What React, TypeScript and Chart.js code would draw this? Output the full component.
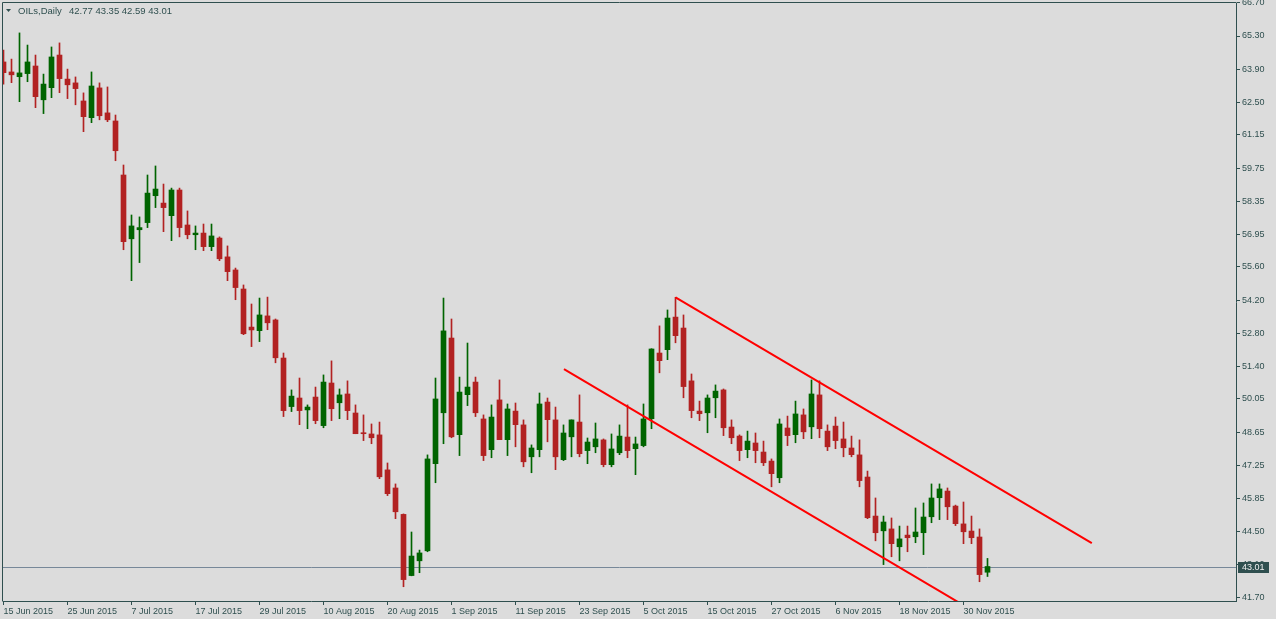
import React, { useEffect, useRef } from 'react';
import { Chart, registerables } from 'chart.js';

Chart.register(...registerables);

const symbolTitle = 'OILs,Daily';

// date labels shown on the time axis, one every LABEL_STEP bars
const xTickLabels = [
  '15 Jun 2015', '25 Jun 2015', '7 Jul 2015', '17 Jul 2015', '29 Jul 2015', '10 Aug 2015',
  '20 Aug 2015', '1 Sep 2015', '11 Sep 2015', '23 Sep 2015', '5 Oct 2015', '15 Oct 2015',
  '27 Oct 2015', '6 Nov 2015', '18 Nov 2015', '30 Nov 2015',
];
const LABEL_STEP = 8;

const yTickValues = [
  66.7, 65.3, 63.9, 62.5, 61.15, 59.75, 58.35, 56.95, 55.6, 54.2, 52.8, 51.4, 50.05, 48.65,
  47.25, 45.85, 44.5, 43.1, 41.7,
];

const opens = [
  64.21, 63.79, 63.59, 63.72, 64.04, 62.62, 63.13, 64.5, 63.49, 63.33,
  62.57, 61.87, 63.12, 62.07, 61.73, 59.46, 56.78, 57.16, 57.46, 58.59,
  58.28, 57.75, 58.83, 57.36, 56.95, 57.02, 56.45, 56.81, 56.02, 55.47,
  54.67, 53.07, 52.92, 53.54, 53.37, 51.77, 49.73, 50.09, 49.59, 50.13,
  48.93, 50.72, 49.89, 50.26, 49.46, 48.62, 48.58, 48.54, 47.07, 46.31,
  45.2, 42.63, 43.25, 43.67, 47.33, 49.47, 52.61, 48.55, 50.23, 50.76,
  49.21, 47.92, 50.01, 48.34, 49.54, 48.96, 47.62, 47.92, 49.92, 49.17,
  47.5, 48.46, 49.08, 47.88, 48.04, 48.33, 47.29, 47.79, 48.45, 47.96,
  48.09, 49.22, 51.98, 52.12, 53.49, 53.03, 50.81, 49.54, 49.47, 50.1,
  50.43, 48.87, 48.49, 47.92, 48.2, 47.82, 47.44, 46.74, 48.83, 48.55,
  49.38, 48.88, 50.22, 48.7, 48.91, 48.37, 47.99, 47.7, 46.77, 45.13,
  44.51, 44.59, 43.84, 44.33, 44.26, 44.43, 45.1, 45.9, 46.18, 45.55,
  44.8, 44.5, 44.25, 42.77,
];

const highs = [
  64.71, 64.33, 65.43, 64.92, 64.5, 63.7, 64.84, 65.01, 63.91, 63.58,
  62.91, 63.79, 63.33, 63.16, 61.98, 59.88, 57.78, 57.7, 59.46, 59.84,
  59.08, 58.91, 58.91, 57.95, 57.32, 57.4, 57.4, 56.86, 56.48, 55.55,
  54.84, 54.04, 54.29, 54.33, 53.41, 51.98, 50.43, 50.93, 49.8, 50.55,
  51.06, 51.65, 50.47, 50.81, 49.8, 49.38, 49.0, 49.08, 47.36, 46.48,
  45.22, 44.46, 43.7, 47.7, 50.93, 54.29, 53.41, 50.97, 52.4, 50.97,
  49.38, 49.8, 50.85, 49.84, 49.88, 49.17, 48.12, 50.3, 50.09, 49.71,
  48.96, 49.17, 50.22, 48.41, 49.04, 48.37, 48.58, 48.96, 49.8, 48.45,
  49.84, 52.16, 53.12, 53.79, 54.32, 53.58, 51.1, 49.96, 50.22, 50.64,
  50.47, 49.17, 48.54, 48.7, 48.62, 48.28, 47.53, 49.21, 49.33, 49.96,
  49.63, 50.85, 50.81, 48.96, 49.29, 49.08, 48.49, 48.33, 47.02, 45.89,
  45.13, 45.05, 44.71, 44.71, 45.47, 45.68, 46.48, 46.48, 46.31, 45.59,
  45.72, 45.13, 44.59, 43.35,
];

const lows = [
  63.28, 63.34, 62.54, 63.38, 62.29, 62.04, 62.71, 62.92, 62.67, 62.41,
  61.28, 61.66, 61.78, 61.7, 60.06, 56.32, 55.02, 55.78, 57.25, 58.09,
  57.08, 56.7, 56.86, 56.78, 56.32, 56.28, 56.28, 55.86, 55.02, 54.22,
  52.75, 52.25, 52.46, 52.96, 51.57, 49.31, 49.52, 48.97, 48.8, 49.01,
  48.84, 49.14, 49.22, 49.18, 48.59, 48.3, 48.17, 46.7, 45.99, 45.02,
  42.16, 42.62, 42.75, 43.63, 46.53, 48.17, 48.42, 47.67, 49.77, 49.31,
  47.46, 47.58, 48.34, 47.67, 48.04, 47.2, 46.95, 47.62, 48.25, 47.08,
  47.46, 47.62, 47.62, 47.33, 47.79, 47.2, 47.2, 47.71, 47.58, 46.87,
  48.04, 48.8, 51.15, 51.7, 52.41, 50.1, 49.26, 49.14, 48.63, 49.26,
  48.51, 48.17, 47.46, 47.58, 47.37, 47.25, 46.36, 46.53, 48.09, 48.21,
  48.38, 48.38, 48.42, 47.88, 47.96, 47.62, 47.62, 46.36, 45.02, 44.09,
  43.09, 43.42, 43.25, 43.63, 44.01, 43.51, 44.85, 44.98, 44.98, 44.73,
  43.97, 43.97, 42.37, 42.59,
];

const closes = [
  63.76, 63.67, 63.75, 64.21, 62.75, 63.28, 64.42, 63.51, 63.25, 63.09,
  61.91, 63.2, 61.95, 61.78, 60.48, 56.66, 57.32, 57.25, 58.7, 58.87,
  58.09, 58.83, 57.25, 56.95, 57.02, 56.45, 56.9, 55.94, 55.4, 54.73,
  52.79, 52.95, 53.58, 53.25, 51.78, 49.56, 50.17, 49.56, 49.71, 49.14,
  50.76, 49.64, 50.22, 49.56, 48.59, 48.59, 48.42, 46.78, 46.07, 45.31,
  42.46, 43.45, 43.58, 47.53, 50.05, 52.91, 48.46, 50.34, 50.55, 49.47,
  47.67, 49.29, 48.34, 49.63, 48.97, 47.41, 47.99, 49.84, 49.18, 47.62,
  48.62, 49.17, 47.75, 48.24, 48.37, 47.29, 47.95, 48.49, 47.88, 48.16,
  49.21, 52.15, 51.66, 53.45, 52.71, 50.57, 49.56, 49.43, 50.09, 50.38,
  48.84, 48.42, 47.88, 48.28, 47.88, 47.37, 46.91, 49.0, 48.51, 49.42,
  48.67, 50.26, 48.8, 48.04, 48.3, 48.0, 47.71, 46.62, 45.06, 44.43,
  44.88, 43.97, 44.17, 44.22, 44.46, 45.09, 45.89, 46.27, 45.52, 44.81,
  44.47, 44.22, 42.67, 43.01,
];

// hand-drawn channel lines (bar index, price)
const upperTrendX = [84, 136.04];
const upperTrendY = [54.32, 43.99];
const lowerTrendX = [70.06, 125];
const lowerTrendY = [51.3, 40.39];

const BG = '#DCDCDC';
const FG = '#2F4F4F';
const BULL = '#006400';
const BEAR = '#B22222';
const TREND = '#FF0000';
const PRICE_LINE = '#778899';
const FONT = '"Liberation Sans", Arial, sans-serif';

export default function App() {
  const canvasRef = useRef<HTMLCanvasElement | null>(null);

  useEffect(() => {
    document.body.style.margin = '0';
    document.body.style.overflow = 'hidden';
    document.body.style.background = BG;
    const canvas = canvasRef.current;
    if (!canvas) return;

    const n = closes.length;
    const idx = closes.map((_, i) => i);
    const colors = idx.map((i) => (closes[i] >= opens[i] ? BULL : BEAR));
    const lastI = n - 1;
    const lastClose = closes[lastI];

    const mtPlugin = {
      id: 'mt4look',
      beforeDraw(chart: any) {
        const { ctx, width, height } = chart;
        ctx.save();
        ctx.fillStyle = BG;
        ctx.fillRect(0, 0, width, height);
        ctx.restore();
      },
      beforeDatasetsDraw(chart: any) {
        const { ctx, chartArea } = chart;
        const y = Math.round(chart.scales.y.getPixelForValue(lastClose)) + 0.5;
        ctx.save();
        ctx.strokeStyle = PRICE_LINE;
        ctx.lineWidth = 1;
        ctx.beginPath();
        ctx.moveTo(chartArea.left, y);
        ctx.lineTo(chartArea.right, y);
        ctx.stroke();
        ctx.restore();
      },
      afterDraw(chart: any) {
        const { ctx, chartArea } = chart;
        ctx.save();
        // frame (left + top)
        ctx.strokeStyle = FG;
        ctx.lineWidth = 1;
        ctx.beginPath();
        ctx.moveTo(chartArea.left - 0.5, chartArea.bottom + 0.5);
        ctx.lineTo(chartArea.left - 0.5, chartArea.top - 0.5);
        ctx.lineTo(chartArea.right + 0.5, chartArea.top - 0.5);
        ctx.stroke();

        // current price box on the price axis
        const y = Math.round(chart.scales.y.getPixelForValue(lastClose));
        const bx = chartArea.right + 2;
        ctx.fillStyle = FG;
        ctx.fillRect(bx, y - 5, 31, 11);
        ctx.fillStyle = '#F0F0F0';
        ctx.font = `9px ${FONT}`;
        ctx.textBaseline = 'middle';
        ctx.textAlign = 'left';
        ctx.fillText(lastClose.toFixed(2), chartArea.right + 6, y + 0.5);

        // header
        ctx.fillStyle = FG;
        ctx.beginPath();
        ctx.moveTo(6, 9);
        ctx.lineTo(11, 9);
        ctx.lineTo(8.5, 12);
        ctx.closePath();
        ctx.fill();
        ctx.font = `9.5px ${FONT}`;
        ctx.fillText(symbolTitle, 18, 11.5);
        const ohlc = [opens[lastI], highs[lastI], lows[lastI], closes[lastI]]
          .map((v) => v.toFixed(2))
          .join(' ');
        ctx.fillText(ohlc, 69, 11.5);
        ctx.restore();
      },
    };

    const chart = new Chart(canvas, {
      type: 'bar',
      data: {
        datasets: [
          {
            type: 'line',
            label: 'upper',
            data: upperTrendX.map((x, k) => ({ x, y: upperTrendY[k] })),
            borderColor: TREND,
            borderWidth: 2,
            pointRadius: 0,
            fill: false,
            clip: 0,
            order: 0,
          } as any,
          {
            type: 'line',
            label: 'lower',
            data: lowerTrendX.map((x, k) => ({ x, y: lowerTrendY[k] })),
            borderColor: TREND,
            borderWidth: 2,
            pointRadius: 0,
            fill: false,
            clip: 0,
            order: 0,
          } as any,
          {
            type: 'bar',
            label: 'body',
            data: idx.map((i) => ({
              x: i,
              y: [Math.min(opens[i], closes[i]), Math.max(opens[i], closes[i])],
            })),
            backgroundColor: colors,
            borderWidth: 0,
            barThickness: 5,
            grouped: false,
            minBarLength: 1,
            clip: 0,
            order: 1,
          } as any,
          {
            type: 'bar',
            label: 'wick',
            data: idx.map((i) => ({ x: i, y: [lows[i], highs[i]] })),
            backgroundColor: colors,
            borderWidth: 0,
            barThickness: 1,
            grouped: false,
            clip: 0,
            order: 2,
          } as any,
        ],
      },
      options: {
        responsive: false,
        animation: false,
        devicePixelRatio: 1,
        layout: { padding: { left: 3, top: 3, right: 0, bottom: 0 } },
        plugins: { legend: { display: false }, tooltip: { enabled: false } },
        events: [],
        scales: {
          x: {
            type: 'linear',
            position: 'bottom',
            min: -0.0625,
            max: 154.0625,
            offset: false,
            bounds: 'data',
            grid: { drawOnChartArea: false, drawTicks: true, tickLength: 4, color: FG, offset: false },
            border: { display: true, color: FG, width: 1 },
            ticks: {
              autoSkip: false,
              maxRotation: 0,
              minRotation: 0,
              align: 'start',
              padding: 1,
              color: FG,
              font: { family: FONT, size: 9 },
              callback: (v: any) => xTickLabels[Math.round(Number(v) / LABEL_STEP)] ?? '',
            },
            afterBuildTicks: (scale: any) => {
              scale.ticks = xTickLabels.map((_, k) => ({ value: k * LABEL_STEP }));
            },
            afterFit: (scale: any) => {
              scale.height = 18;
              scale.paddingLeft = 0;
              scale.paddingRight = 0;
            },
          },
          y: {
            type: 'linear',
            position: 'right',
            min: 41.561,
            max: 66.687,
            bounds: 'data',
            beginAtZero: false,
            grid: { drawOnChartArea: false, drawTicks: true, tickLength: 4, color: FG },
            border: { display: true, color: FG, width: 1 },
            ticks: {
              autoSkip: false,
              padding: 2,
              color: FG,
              font: { family: FONT, size: 9 },
              callback: (v: any) => Number(v).toFixed(2),
            },
            afterBuildTicks: (scale: any) => {
              scale.ticks = yTickValues.map((v) => ({ value: v }));
            },
            afterFit: (scale: any) => {
              scale.width = 40;
              scale.paddingTop = 0;
              scale.paddingBottom = 0;
            },
          },
        },
      } as any,
      plugins: [mtPlugin],
    });

    return () => {
      chart.destroy();
    };
  }, []);

  return (
    <div style={{ width: 1276, height: 619, background: BG, overflow: 'hidden' }}>
      <canvas ref={canvasRef} width={1276} height={619} style={{ display: 'block', width: 1276, height: 619 }} />
    </div>
  );
}
